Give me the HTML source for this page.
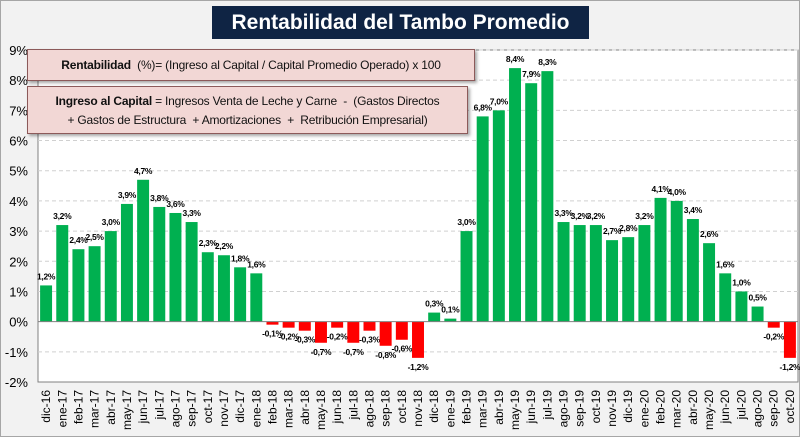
<!DOCTYPE html>
<html><head><meta charset="utf-8">
<style>
body{margin:0;width:800px;height:437px;overflow:hidden;background:#fff;font-family:"Liberation Sans",sans-serif}
#wrap{position:absolute;left:0;top:0;width:798px;height:435px;border:1px solid #a6a6a6;background:#f2f2f2}
#title{position:absolute;left:211px;top:5px;width:377px;height:33px;background:#0f2444;color:#fff;font-weight:bold;font-size:21px;line-height:33px;text-align:center;white-space:nowrap}
.box{position:absolute;background:#f2d7d5;border:1px solid #8c5a5a;box-shadow:2px 2px 3px rgba(0,0,0,.35);font-size:12px;color:#111;white-space:nowrap;letter-spacing:-0.2px}
</style></head><body>
<div id="wrap">
<svg id="chart" width="800" height="437" style="position:absolute;left:-1px;top:-1px"></svg>
<div id="title">Rentabilidad del Tambo Promedio</div>
<div class="box" style="left:26px;top:48px;width:446px;height:30px;line-height:30px;text-align:center"><b>Rentabilidad</b>&nbsp; (%)= (Ingreso al Capital / Capital Promedio Operado) x 100</div>
<div class="box" style="left:26px;top:85px;width:441px;height:48px;line-height:19px;padding-top:5px;box-sizing:border-box;text-align:center"><b>Ingreso al Capital</b> = Ingresos Venta de Leche y Carne&nbsp; -&nbsp; (Gastos Directos<br>+ Gastos de Estructura&nbsp; + Amortizaciones&nbsp; +&nbsp; Retribución Empresarial)</div>
</div>
<script>
const months=["dic-16","ene-17","feb-17","mar-17","abr-17","may-17","jun-17","jul-17","ago-17","sep-17","oct-17","nov-17","dic-17","ene-18","feb-18","mar-18","abr-18","may-18","jun-18","jul-18","ago-18","sep-18","oct-18","nov-18","dic-18","ene-19","feb-19","mar-19","abr-19","may-19","jun-19","jul-19","ago-19","sep-19","oct-19","nov-19","dic-19","ene-20","feb-20","mar-20","abr-20","may-20","jun-20","jul-20","ago-20","sep-20","oct-20"];
const values=[1.2,3.2,2.4,2.5,3.0,3.9,4.7,3.8,3.6,3.3,2.3,2.2,1.8,1.6,-0.1,-0.2,-0.3,-0.7,-0.2,-0.7,-0.3,-0.8,-0.6,-1.2,0.3,0.1,3.0,6.8,7.0,8.4,7.9,8.3,3.3,3.2,3.2,2.7,2.8,3.2,4.1,4.0,3.4,2.6,1.6,1.0,0.5,-0.2,-1.2];
const yTicks=[-2,-1,0,1,2,3,4,5,6,7,8,9];
const svg=document.getElementById('chart');
const NS="http://www.w3.org/2000/svg";
const L=38,R=798,T=50,B=382,yMin=-2,yMax=9;
const y=v=>B-(v-yMin)/(yMax-yMin)*(B-T);
const band=(R-L)/months.length;
const x=i=>L+band*(i+0.5);
function mk(t,a){const e=document.createElementNS(NS,t);for(const k in a)e.setAttribute(k,a[k]);svg.appendChild(e);return e;}
let r=mk('rect',{x:L,y:T,width:R-L,height:B-T,fill:'#fff',stroke:'#808080'});


yTicks.forEach(t=>{
  if(t!==yMin&&t!==0){const g=mk('line',{x1:L,x2:R,y1:y(t),y2:y(t),stroke:'#d0d0d0','stroke-dasharray':'4,3'});
  
  }
  const tx=mk('text',{x:L-10,y:y(t)+5,'text-anchor':'end','font-size':'13',fill:'#000'});
  tx.textContent=t+'%';
  
  
});
values.forEach((v,i)=>{
  const w=band*0.74;
  const b=mk('rect',{x:x(i)-w/2,y:Math.min(y(v),y(0)),width:w,height:Math.abs(y(v)-y(0)),fill:v>=0?'#00b050':'#ff0000'});
  
  
  const lab=mk('text',{x:x(i),y:v>=0?y(v)-6:y(v)+12,'text-anchor':'middle','font-size':'8.5','font-weight':'bold',fill:'#000','letter-spacing':'-0.3'});
  lab.textContent=v.toFixed(1).replace('.',',')+'%';
  
  
  const xl=mk('text',{x:0,y:0,'text-anchor':'end','font-size':'12',fill:'#000',transform:`translate(${x(i)+4},${B+8}) rotate(-90)`});
  xl.textContent=months[i];
  
  
});
const z=mk('line',{x1:L,x2:R,y1:y(0),y2:y(0),stroke:'#808080'});


</script>
</body></html>
